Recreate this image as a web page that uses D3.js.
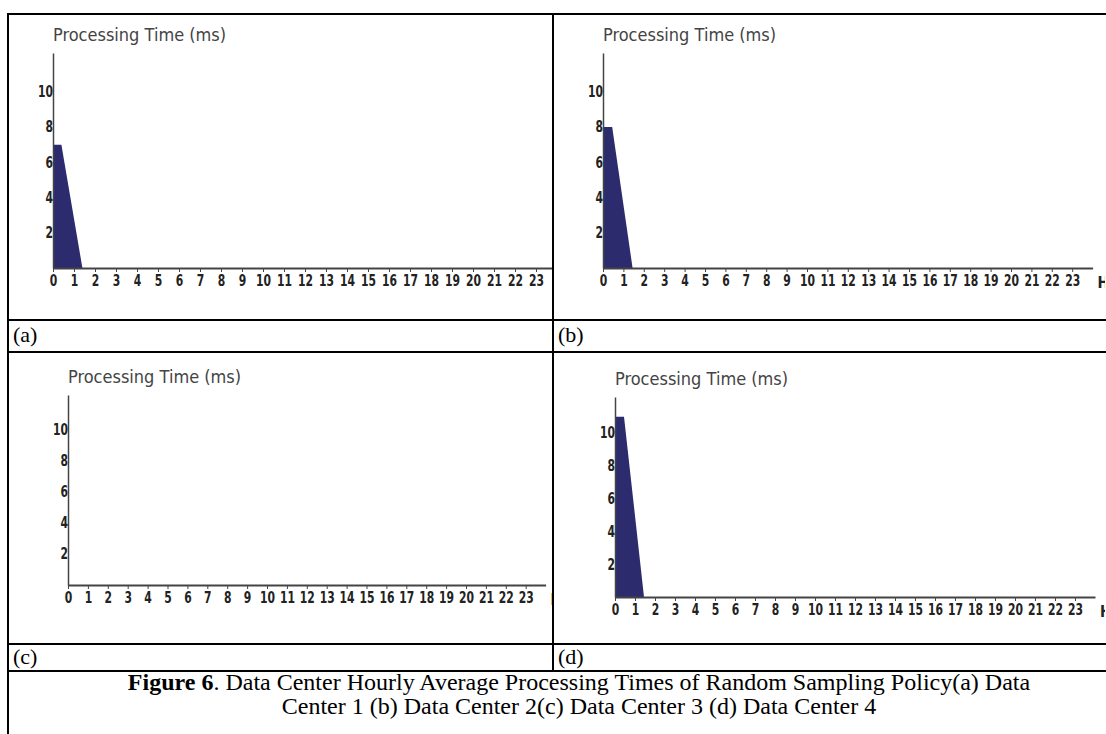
<!DOCTYPE html>
<html>
<head>
<meta charset="utf-8">
<script src="https://cdn.jsdelivr.net/npm/d3@7"></script>
<style>
  body { margin: 0; background: #fff; }
  svg { display: block; }
</style>
</head>
<body>
<svg id="graph"></svg>
<script>
// data
var hourTicks = [0,1,2,3,4,5,6,7,8,9,10,11,12,13,14,15,16,17,18,19,20,21,22,23];
var timeTicks = [2,4,6,8,10];
var panelLabels = ["(a)", "(b)", "(c)", "(d)"];
var yTitle = "Processing Time (ms)";
var xTitle = "Hrs";

// hourly average processing time (ms), per data center
var dc1Hours = [0, 0.4, 1.4];
var dc1Times = [7, 7, 0];
var dc2Hours = [0, 0.45, 1.45];
var dc2Times = [8, 8, 0];
var dc3Hours = [];
var dc3Times = [];
var dc4Hours = [0, 0.45, 1.45];
var dc4Times = [11, 11, 0];

var captionBold = "Figure  6";
var captionLine1 = ". Data Center Hourly Average Processing Times of Random Sampling Policy(a) Data";
var captionLine2 = "Center 1 (b) Data Center 2(c) Data Center 3 (d) Data Center 4";

width = 1106;
height = 734;
fill = "#2b2b6e";
chartFont = "'DejaVu Sans Condensed', sans-serif";
serif = "'Liberation Serif', 'Times New Roman', serif";
// tick digits are tall and narrow in the original
squeeze = "scale(0.8,1)";

canvas = d3.select("#graph")
    .attr("width", width)
    .attr("height", height);

// table grid
var gLeft = 8, gMid = 553, gRight = 1140, gTop = 14;
var rows = [14, 320, 352, 644, 671];
grid = canvas.append("g").attr("style", "stroke:black; stroke-width:2; fill:none");
rows.forEach(function(y) {
    grid.append("line").attr("x1", gLeft - 1).attr("x2", gRight).attr("y1", y).attr("y2", y);
});
grid.append("line").attr("x1", gLeft).attr("x2", gLeft).attr("y1", gTop - 1).attr("y2", height);
grid.append("line").attr("x1", gMid).attr("x2", gMid).attr("y1", gTop).attr("y2", rows[4]);

// panel frames (cell box, axis origin, pixels per hour)
panels = [
    {hours: dc1Hours, times: dc1Times, cell: [gLeft, gTop, gMid, 320], ox: 53, oy: 268, yTop: 53, hx: 21},
    {hours: dc2Hours, times: dc2Times, cell: [gMid, gTop, width, 320], ox: 603, oy: 268, yTop: 53, hx: 20.4},
    {hours: dc3Hours, times: dc3Times, cell: [gLeft, 352, gMid, 644], ox: 68, oy: 585, yTop: 395, hx: 19.9},
    {hours: dc4Hours, times: dc4Times, cell: [gMid, 352, width, 644], ox: 615, oy: 597, yTop: 397, hx: 20}
];

panels.forEach(function(p, i) {
    var clipId = "clip" + i;
    canvas.append("clipPath").attr("id", clipId)
        .append("rect")
            .attr("x", p.cell[0] + 1).attr("y", p.cell[1] + 1)
            .attr("width", p.cell[2] - p.cell[0] - 2)
            .attr("height", p.cell[3] - p.cell[1] - 2);
    var g = canvas.append("g").attr("clip-path", "url(#" + clipId + ")");

    var x = d3.scaleLinear().domain([0, 24]).range([p.ox, p.ox + 24 * p.hx]);
    var y = d3.scaleLinear().domain([0, 12.2]).range([p.oy, p.yTop]);

    var pts = p.hours.map(function(h, j) { return {h: h, v: p.times[j]}; });
    var area = d3.area()
        .x(function(d) { return x(d.h); })
        .y0(y(0))
        .y1(function(d) { return y(d.v); });
    g.append("path").datum(pts)
        .attr("d", area)
        .attr("fill", fill);

    // y axis
    var ga = g.append("g")
        .attr("transform", "translate(" + p.ox + ",0)")
        .call(d3.axisLeft(y).tickValues(timeTicks).tickSize(0).tickPadding(0));
    ga.select(".domain").attr("stroke", "#444").attr("stroke-width", 1.5);
    ga.selectAll("text").attr("fill", "#222")
        .attr("transform", squeeze)
        .attr("style", "font: bold 15px " + chartFont);

    // x axis
    var gx = g.append("g")
        .attr("transform", "translate(0," + p.oy + ")")
        .call(d3.axisBottom(x).tickValues(hourTicks).tickSize(4).tickSizeOuter(0).tickPadding(3));
    gx.select(".domain").attr("stroke", "#444").attr("stroke-width", 2);
    gx.selectAll(".tick line").attr("stroke", "#444");
    gx.selectAll("text").attr("fill", "#222")
        .attr("transform", squeeze)
        .attr("style", "font: bold 15px " + chartFont);

    g.append("text")
        .attr("x", x(24) + 5).attr("y", p.oy + 20)
        .attr("fill", "#222")
        .attr("style", "font: bold 15px " + chartFont)
        .text(xTitle);

    g.append("text")
        .attr("x", p.ox).attr("y", p.yTop - 12)
        .attr("fill", "#444")
        .attr("style", "font: 18px " + chartFont)
        .text(yTitle);

    // label row
    canvas.append("text")
        .attr("x", p.cell[0] + 5)
        .attr("y", (i < 2 ? 342 : 664))
        .attr("style", "font: 22px " + serif)
        .text(panelLabels[i]);
});

// caption
cap = canvas.append("text")
    .attr("x", 579).attr("y", 690)
    .attr("text-anchor", "middle")
    .attr("style", "font: 24px " + serif);
cap.append("tspan").attr("font-weight", "bold").text(captionBold);
cap.append("tspan").text(captionLine1);
canvas.append("text")
    .attr("x", 579).attr("y", 714)
    .attr("text-anchor", "middle")
    .attr("style", "font: 24px " + serif)
    .text(captionLine2);
</script>
</body>
</html>
